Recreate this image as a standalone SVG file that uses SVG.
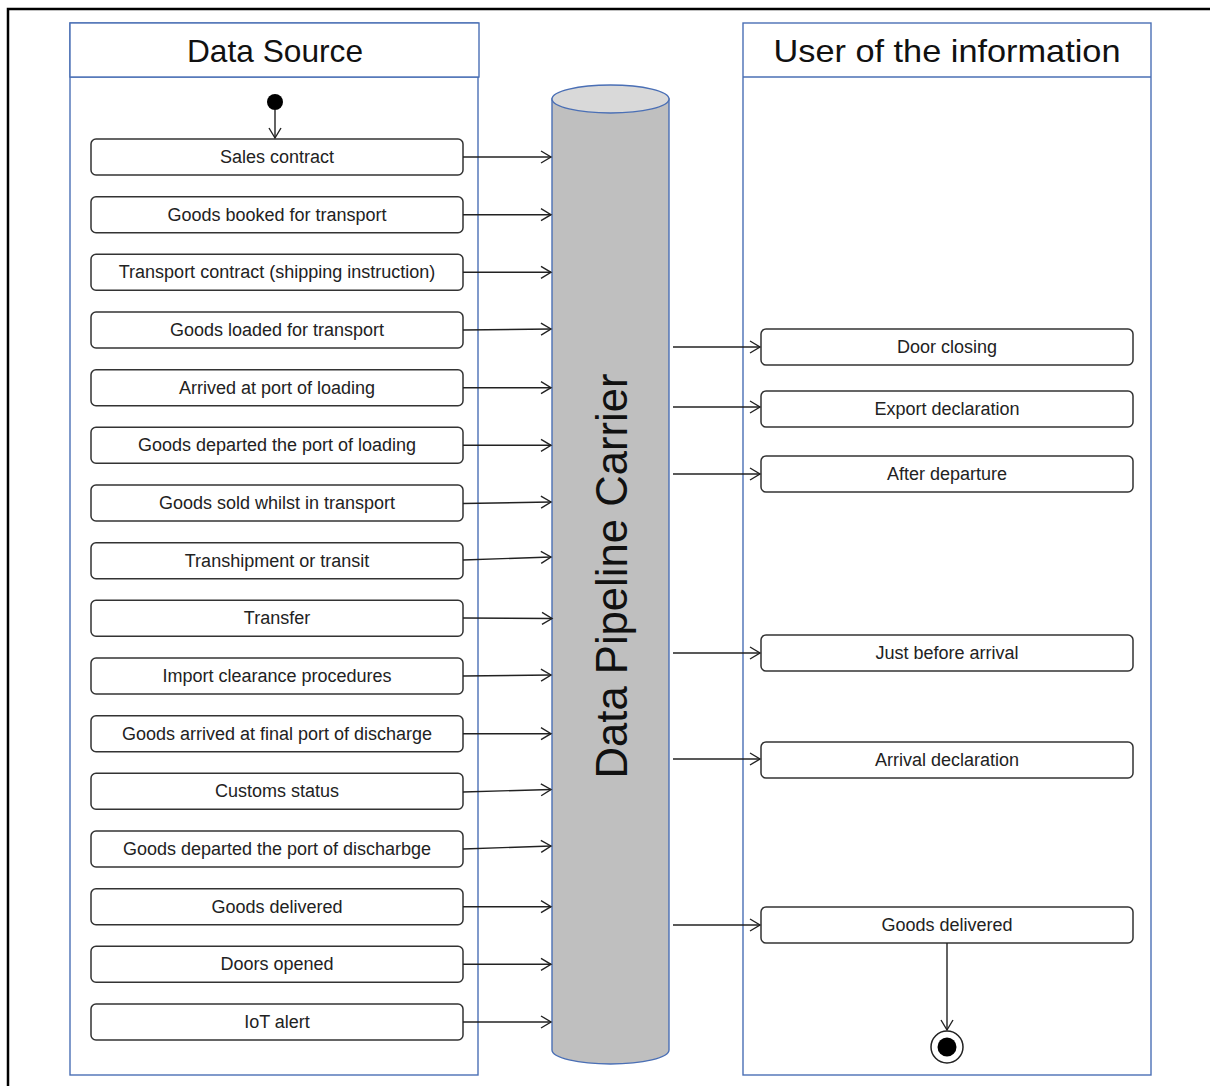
<svg xmlns="http://www.w3.org/2000/svg" width="1210" height="1086" viewBox="0 0 1210 1086">
<style>
.lane{fill:#fff;stroke:#4a6fb5;stroke-width:1.4}
.box{fill:#fff;stroke:#333;stroke-width:1.5}
.t{font-family:"Liberation Sans",Arial,sans-serif;font-size:18px;fill:#222;text-anchor:middle}
.h{font-family:"Liberation Sans",Arial,sans-serif;font-size:32px;fill:#111;text-anchor:middle}
.c{stroke:#222;stroke-width:1.4;fill:none;marker-end:url(#arr)}
</style>
<defs>
<marker id="arr" markerUnits="userSpaceOnUse" markerWidth="14" markerHeight="14" refX="11" refY="7" orient="auto">
<path d="M1,1 L11,7 L1,13" fill="none" stroke="#222" stroke-width="1.4"/>
</marker>
</defs>
<rect x="0" y="0" width="1210" height="1086" fill="#fff"/>
<rect x="8" y="9" width="1220" height="1100" fill="none" stroke="#000" stroke-width="2.5"/>

<g id="lane-source">
<rect class="lane" x="70" y="23" width="408" height="1052"/>
<line x1="70" y1="77" x2="479" y2="77" stroke="#4a6fb5" stroke-width="1.4"/>
<rect class="lane" x="70" y="23" width="409" height="54" fill="none"/>
<text class="h" x="275" y="62" textLength="176" lengthAdjust="spacingAndGlyphs">Data Source</text>
</g>
<g id="lane-user">
<rect class="lane" x="743" y="23" width="408" height="1052"/>
<line x1="743" y1="77" x2="1151" y2="77" stroke="#4a6fb5" stroke-width="1.4"/>
<text class="h" x="947" y="62" textLength="347" lengthAdjust="spacingAndGlyphs">User of the information</text>
</g>

<g id="pipeline">
<path d="M552,99 L552,1050 A58.5,14 0 0 0 669,1050 L669,99 Z" fill="#bfbfbf" stroke="#4a6fb5" stroke-width="1.4"/>
<ellipse cx="610.5" cy="99" rx="58.5" ry="14" fill="#d9d9d9" stroke="#4a6fb5" stroke-width="1.4"/>
<text x="0" y="0" transform="translate(627,576) rotate(-90)" font-family="'Liberation Sans',Arial,sans-serif" font-size="44" fill="#111" text-anchor="middle" textLength="405" lengthAdjust="spacingAndGlyphs">Data Pipeline Carrier</text>
</g>

<g id="start"><circle cx="275" cy="102" r="8" fill="#000"/></g>
<g id="end"><circle cx="947" cy="1047" r="16" fill="#fff" stroke="#222" stroke-width="1.5"/><circle cx="947" cy="1047" r="9.5" fill="#000"/></g>

<g id="n1"><rect class="box" x="91" y="139" width="372" height="36" rx="5"/><text class="t" x="277" y="163">Sales contract</text></g>
<g id="n2"><rect class="box" x="91" y="196.7" width="372" height="36" rx="5"/><text class="t" x="277" y="220.7">Goods booked for transport</text></g>
<g id="n3"><rect class="box" x="91" y="254.3" width="372" height="36" rx="5"/><text class="t" x="277" y="278.3">Transport contract (shipping instruction)</text></g>
<g id="n4"><rect class="box" x="91" y="312" width="372" height="36" rx="5"/><text class="t" x="277" y="336">Goods loaded for transport</text></g>
<g id="n5"><rect class="box" x="91" y="369.7" width="372" height="36" rx="5"/><text class="t" x="277" y="393.7">Arrived at port of loading</text></g>
<g id="n6"><rect class="box" x="91" y="427.3" width="372" height="36" rx="5"/><text class="t" x="277" y="451.3">Goods departed the port of loading</text></g>
<g id="n7"><rect class="box" x="91" y="485" width="372" height="36" rx="5"/><text class="t" x="277" y="509">Goods sold whilst in transport</text></g>
<g id="n8"><rect class="box" x="91" y="542.7" width="372" height="36" rx="5"/><text class="t" x="277" y="566.7">Transhipment or transit</text></g>
<g id="n9"><rect class="box" x="91" y="600.3" width="372" height="36" rx="5"/><text class="t" x="277" y="624.3">Transfer</text></g>
<g id="n10"><rect class="box" x="91" y="658" width="372" height="36" rx="5"/><text class="t" x="277" y="682">Import clearance procedures</text></g>
<g id="n11"><rect class="box" x="91" y="715.7" width="372" height="36" rx="5"/><text class="t" x="277" y="739.7">Goods arrived at final port of discharge</text></g>
<g id="n12"><rect class="box" x="91" y="773.3" width="372" height="36" rx="5"/><text class="t" x="277" y="797.3">Customs status</text></g>
<g id="n13"><rect class="box" x="91" y="831" width="372" height="36" rx="5"/><text class="t" x="277" y="855">Goods departed the port of discharbge</text></g>
<g id="n14"><rect class="box" x="91" y="888.7" width="372" height="36" rx="5"/><text class="t" x="277" y="912.7">Goods delivered</text></g>
<g id="n15"><rect class="box" x="91" y="946.3" width="372" height="36" rx="5"/><text class="t" x="277" y="970.3">Doors opened</text></g>
<g id="n16"><rect class="box" x="91" y="1004" width="372" height="36" rx="5"/><text class="t" x="277" y="1028">IoT alert</text></g>

<g id="r1"><rect class="box" x="761" y="329" width="372" height="36" rx="5"/><text class="t" x="947" y="353">Door closing</text></g>
<g id="r2"><rect class="box" x="761" y="391" width="372" height="36" rx="5"/><text class="t" x="947" y="415">Export declaration</text></g>
<g id="r3"><rect class="box" x="761" y="456" width="372" height="36" rx="5"/><text class="t" x="947" y="480">After departure</text></g>
<g id="r4"><rect class="box" x="761" y="635" width="372" height="36" rx="5"/><text class="t" x="947" y="659">Just before arrival</text></g>
<g id="r5"><rect class="box" x="761" y="742" width="372" height="36" rx="5"/><text class="t" x="947" y="766">Arrival declaration</text></g>
<g id="r6"><rect class="box" x="761" y="907" width="372" height="36" rx="5"/><text class="t" x="947" y="931">Goods delivered</text></g>

<g id="connectors">
<line class="c" x1="275" y1="110" x2="275" y2="138"/>
<line class="c" x1="463" y1="157" x2="551" y2="157"/>
<line class="c" x1="463" y1="214.7" x2="551" y2="214.7"/>
<line class="c" x1="463" y1="272.3" x2="551" y2="272.3"/>
<line class="c" x1="463" y1="330" x2="551" y2="329"/>
<line class="c" x1="463" y1="387.7" x2="551" y2="387.7"/>
<line class="c" x1="463" y1="445.3" x2="551" y2="445.3"/>
<line class="c" x1="463" y1="503.5" x2="551" y2="502"/>
<line class="c" x1="463" y1="560" x2="551" y2="557"/>
<line class="c" x1="463" y1="618" x2="552" y2="618.5"/>
<line class="c" x1="463" y1="676" x2="551" y2="675"/>
<line class="c" x1="463" y1="733.7" x2="551" y2="733.7"/>
<line class="c" x1="463" y1="792" x2="551" y2="789.5"/>
<line class="c" x1="463" y1="849" x2="551" y2="846"/>
<line class="c" x1="463" y1="906.7" x2="551" y2="906.7"/>
<line class="c" x1="463" y1="964.3" x2="551" y2="964.3"/>
<line class="c" x1="463" y1="1022" x2="551" y2="1022"/>
<line class="c" x1="673" y1="347" x2="760" y2="347"/>
<line class="c" x1="673" y1="407" x2="760" y2="407"/>
<line class="c" x1="673" y1="474" x2="760" y2="474"/>
<line class="c" x1="673" y1="653" x2="760" y2="653"/>
<line class="c" x1="673" y1="759" x2="760" y2="759"/>
<line class="c" x1="673" y1="925" x2="760" y2="925"/>
<line class="c" x1="947" y1="943" x2="947" y2="1030"/>
</g>
</svg>
